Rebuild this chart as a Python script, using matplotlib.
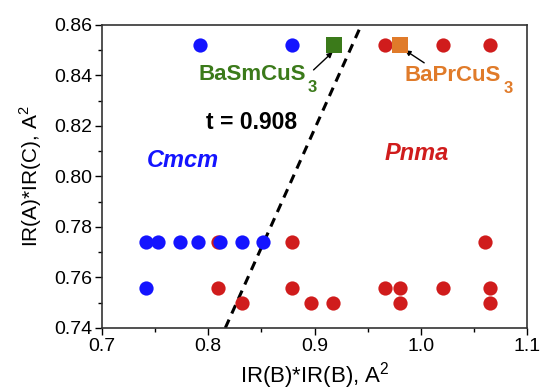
import numpy as np
import matplotlib
matplotlib.use('Agg')
import matplotlib.pyplot as plt
from matplotlib.ticker import MultipleLocator

plt.rcParams['font.family'] = ['Liberation Sans', 'DejaVu Sans']
plt.rcParams['mathtext.fontset'] = 'custom'
plt.rcParams['mathtext.rm'] = 'Liberation Sans'

# Cmcm (blue)
cmcm_x = [0.792, 0.879, 0.741, 0.753, 0.773, 0.790, 0.811, 0.832, 0.851, 0.741]
cmcm_y = [0.852, 0.852, 0.774, 0.774, 0.774, 0.774, 0.774, 0.774, 0.774, 0.756]

# Pnma (red)
pnma_x = [0.966, 1.021, 1.065,
          0.809, 0.879, 1.060,
          0.809, 0.879, 0.966, 0.980, 1.021, 1.065,
          0.832, 0.897, 0.917, 0.980, 1.065]
pnma_y = [0.852, 0.852, 0.852,
          0.774, 0.774, 0.774,
          0.756, 0.756, 0.756, 0.756, 0.756, 0.756,
          0.750, 0.750, 0.750, 0.750, 0.750]

# highlighted compounds
sm_x, sm_y = 0.918, 0.852
pr_x, pr_y = 0.980, 0.852

# boundary line t = 0.908
line_x = [0.816, 0.946]
line_y = [0.740, 0.862]

blue = '#1414ff'
red = '#d01c1c'
green = '#3b7a1a'
orange = '#e07b2a'

fig = plt.figure(figsize=(5.42, 3.9), dpi=100)
ax = fig.add_axes([0.188, 0.159, 0.785, 0.777])

ax.plot(line_x, line_y, color='black', ls=(0, (3, 2.2)), lw=2.2, zorder=1)
ax.scatter(pnma_x, pnma_y, s=105, color=red, zorder=2, linewidths=0)
ax.scatter(cmcm_x, cmcm_y, s=105, color=blue, zorder=3, linewidths=0)
ax.scatter([sm_x], [sm_y], s=120, marker='s', color=green, zorder=4, linewidths=0)
ax.scatter([pr_x], [pr_y], s=120, marker='s', color=orange, zorder=4, linewidths=0)

# labels of the two compounds (subscript drawn separately, it sits low)
ax.text(0.8915, 0.8402, 'BaSmCuS', ha='right', va='center', color=green,
        fontsize=16, fontweight='bold')
ax.text(0.8935, 0.8352, '3', ha='left', va='center', color=green,
        fontsize=12, fontweight='bold')
ax.text(1.0755, 0.8398, 'BaPrCuS', ha='right', va='center', color=orange,
        fontsize=16, fontweight='bold')
ax.text(1.0775, 0.8348, '3', ha='left', va='center', color=orange,
        fontsize=12, fontweight='bold')
arrow = dict(arrowstyle='-|>', color='black', lw=1, mutation_scale=8, shrinkA=0, shrinkB=0)
ax.annotate('', xy=(0.917, 0.8493), xytext=(0.899, 0.8422), arrowprops=arrow)
ax.annotate('', xy=(0.985, 0.8500), xytext=(1.003, 0.8450), arrowprops=arrow)

ax.text(0.8406, 0.8212, 't = 0.908', ha='center', va='center', fontsize=16.5, fontweight='bold')
ax.text(0.776, 0.8065, 'Cmcm', ha='center', va='center', fontsize=17, fontweight='bold',
        style='italic', color=blue)
ax.text(0.996, 0.8090, 'Pnma', ha='center', va='center', fontsize=17, fontweight='bold',
        style='italic', color=red)

ax.set_xlim(0.7, 1.1)
ax.set_ylim(0.74, 0.86)
ax.xaxis.set_major_locator(MultipleLocator(0.1))
ax.xaxis.set_minor_locator(MultipleLocator(0.05))
ax.yaxis.set_major_locator(MultipleLocator(0.02))
ax.yaxis.set_minor_locator(MultipleLocator(0.01))
ax.xaxis.set_major_formatter(plt.FormatStrFormatter('%.1f'))
ax.yaxis.set_major_formatter(plt.FormatStrFormatter('%.2f'))
ax.tick_params(which='major', direction='out', length=5, width=1, labelsize=14, pad=2)
ax.tick_params(which='minor', direction='out', length=3, width=1)
ax.tick_params(top=False, right=False)
for s in ax.spines.values():
    s.set_linewidth(1.2)
    s.set_color('#333333')

ax.set_xlabel('IR(B)*IR(B), A$^2$', fontsize=16, labelpad=4)
ax.set_ylabel('IR(A)*IR(C), A$^2$', fontsize=15, labelpad=7)

fig.savefig('out.png', dpi=100)
